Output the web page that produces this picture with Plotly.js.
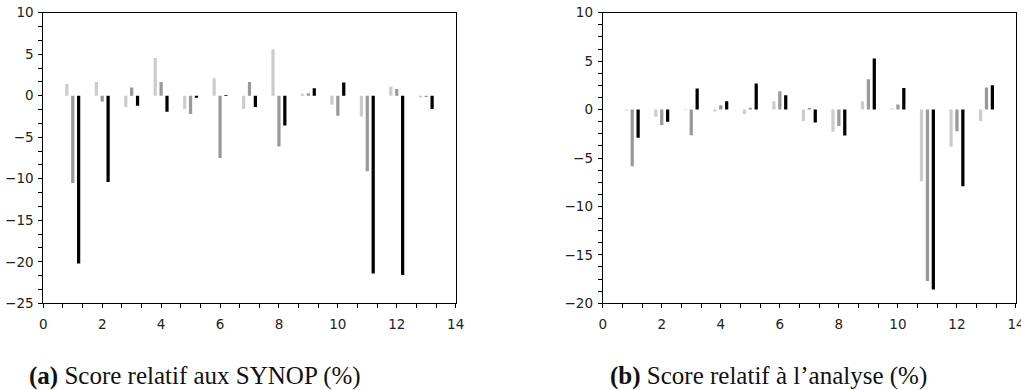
<!DOCTYPE html>
<html>
<head>
<meta charset="utf-8">
<script src="https://cdn.plot.ly/plotly-3.0.1.min.js"></script>
<style>html,body{margin:0;padding:0;background:#fff;}#chart{width:1021px;height:390px;}</style>
</head>
<body>
<div id="chart"></div>
<script>
// Cases (groups) on the x axis
const groups = [1, 2, 3, 4, 5, 6, 7, 8, 9, 10, 11, 12, 13];

// (a) Score relatif aux SYNOP (%)
const synopLight = [1.4, 1.65, -1.37, 4.54, -1.6, 2.1, -1.6, 5.6, 0.25, -1.1, -2.5, 1.1, -0.2];
const synopGray  = [-10.5, -0.7, 1.0, 1.65, -2.2, -7.5, 1.65, -6.1, 0.3, -2.4, -9.1, 0.8, -0.15];
const synopBlack = [-20.2, -10.4, -1.2, -1.93, -0.25, 0.1, -1.37, -3.6, 0.9, 1.6, -21.4, -21.6, -1.6];

// (b) Score relatif à l'analyse (%)
const anaLight = [-0.1, -0.75, 0.05, -0.2, -0.45, 0.86, -1.17, -2.3, 0.86, 0.1, -7.4, -3.85, -1.17];
const anaGray  = [-5.85, -1.6, -2.65, 0.45, 0.2, 1.9, 0.15, -1.69, 3.13, 0.52, -17.7, -2.24, 2.27];
const anaBlack = [-2.9, -1.27, 2.17, 0.86, 2.7, 1.48, -1.34, -2.68, 5.26, 2.24, -18.58, -7.91, 2.51];

const captionA = "<b>(a)</b> Score relatif aux SYNOP (%)";
const captionB = "<b>(b)</b> Score relatif à l’analyse (%)";

const colors = ["#cccccc", "#999999", "#000000"];
const offsets = [-0.255, -0.055, 0.145];
const barW = 0.11;

function mk(vals, i, xa, ya) {
  return {
    type: "bar", x: groups, y: vals, xaxis: xa, yaxis: ya,
    width: barW, offset: offsets[i],
    marker: {color: colors[i], line: {width: 0}},
    showlegend: false, hoverinfo: "x+y"
  };
}

const data = [
  mk(synopLight, 0, "x", "y"), mk(synopGray, 1, "x", "y"), mk(synopBlack, 2, "x", "y"),
  mk(anaLight, 0, "x2", "y2"), mk(anaGray, 1, "x2", "y2"), mk(anaBlack, 2, "x2", "y2")
];

const tickFont = {family: "DejaVu Sans", size: 13.5, color: "#222"};
function xAxis(domain, anchor) {
  return {
    domain: domain, anchor: anchor, range: [0, 14], tick0: 0, dtick: 2,
    showline: true, mirror: true, linecolor: "#000", linewidth: 1,
    ticks: "outside", ticklen: 4, tickcolor: "#000", tickwidth: 1,
    minor: {dtick: 2/3, tick0: 0, ticks: "outside", ticklen: 4, tickcolor: "#000", tickwidth: 1, showgrid: false},
    showgrid: false, zeroline: false, tickfont: tickFont, ticklabelstandoff: 4,
    ticklabeloverflow: "allow", automargin: false,
    fixedrange: true
  };
}
function yAxis(range, minorD, anchor) {
  return {
    domain: [0.2223, 0.9674], anchor: anchor, range: range, tick0: 0, dtick: 5,
    showline: true, mirror: true, linecolor: "#000", linewidth: 1,
    ticks: "outside", ticklen: 4, tickcolor: "#000", tickwidth: 1,
    minor: {dtick: minorD, tick0: 0, ticks: "outside", ticklen: 4, tickcolor: "#000", tickwidth: 1, showgrid: false},
    showgrid: false, zeroline: false, tickfont: tickFont, ticklabelstandoff: 2,
    automargin: false,
    fixedrange: true
  };
}

const layout = {
  width: 1021, height: 390,
  margin: {l: 0, r: 0, t: 0, b: 0},
  paper_bgcolor: "#fff", plot_bgcolor: "#fff",
  barmode: "overlay",
  xaxis: xAxis([0.0424, 0.4463], "y"),
  yaxis: yAxis([-25, 10], 5/3, "x"),
  xaxis2: xAxis([0.5903, 0.9951], "y2"),
  yaxis2: yAxis([-20, 10], 1.25, "x2"),
  annotations: [
    {text: captionA, xref: "paper", yref: "paper", x: 27/1021, y: 0.036, xanchor: "left", yanchor: "middle",
     showarrow: false, font: {family: "Liberation Serif", size: 25, color: "#111"}},
    {text: captionB, xref: "paper", yref: "paper", x: 608/1021, y: 0.036, xanchor: "left", yanchor: "middle",
     showarrow: false, font: {family: "Liberation Serif", size: 25, color: "#111"}}
  ]
};

Plotly.newPlot("chart", data, layout, {displayModeBar: false, staticPlot: true});
</script>
</body>
</html>
